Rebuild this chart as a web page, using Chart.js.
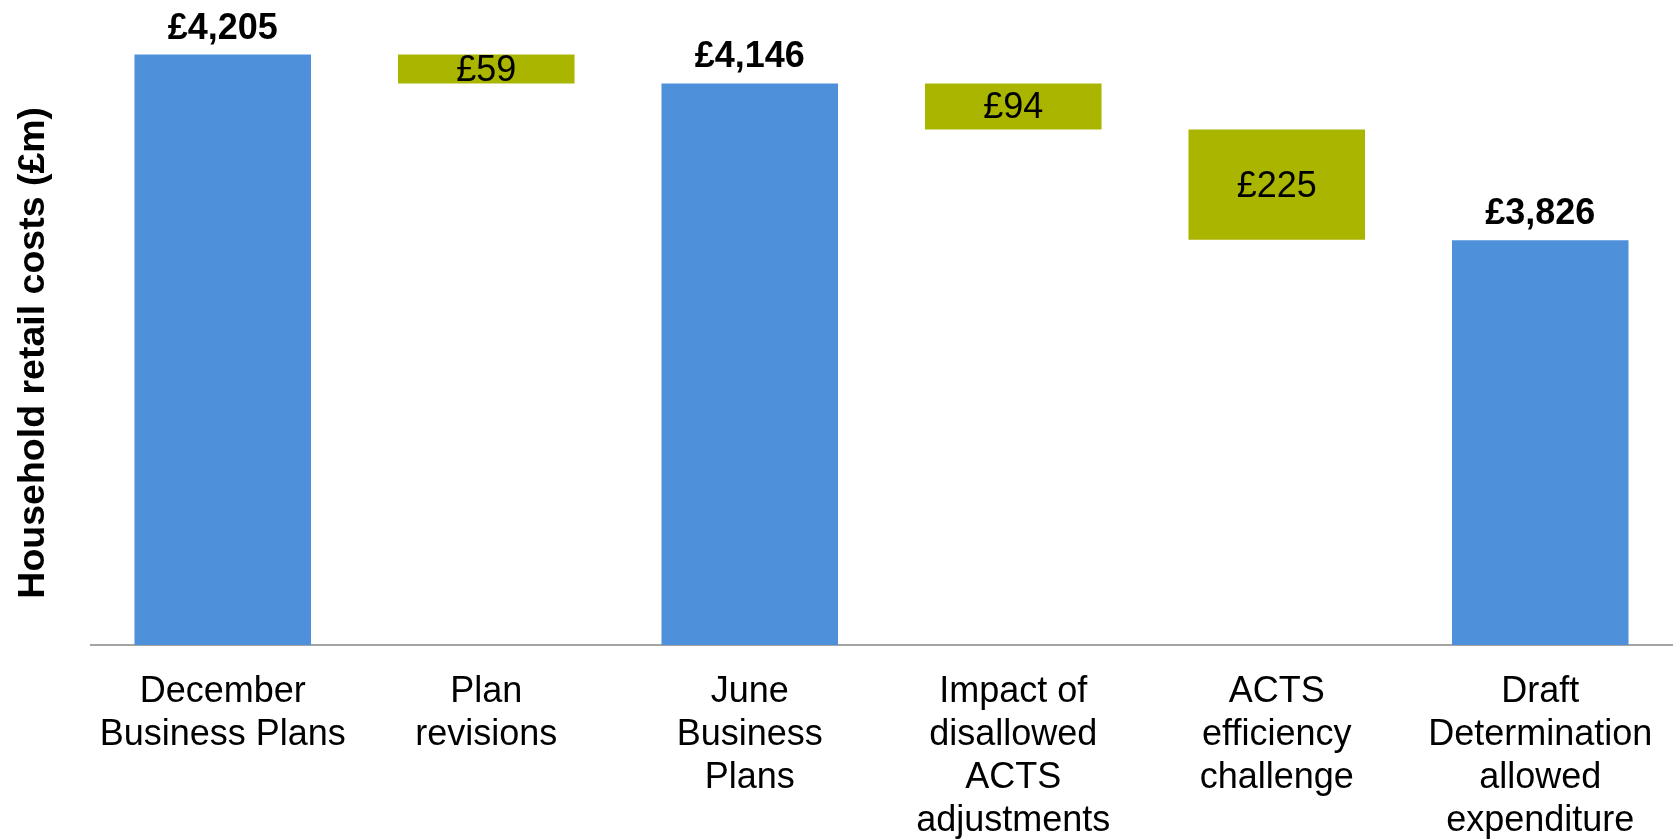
<!DOCTYPE html>
<html>
<head>
<meta charset="utf-8">
<script src="https://cdn.jsdelivr.net/npm/chart.js@4.4.0/dist/chart.umd.min.js"></script>
<style>
  html, body { margin: 0; padding: 0; background: #fff; }
  #wrap { width: 1675px; height: 839px; }
</style>
</head>
<body>
<div id="wrap"><canvas id="myChart"></canvas></div>
<script>
'use strict';

let categories = [
  ['December', 'Business Plans'],
  ['Plan', 'revisions'],
  ['June', 'Business', 'Plans'],
  ['Impact of', 'disallowed', 'ACTS', 'adjustments'],
  ['ACTS', 'efficiency', 'challenge'],
  ['Draft', 'Determination', 'allowed', 'expenditure']
];
// totals are full bars, steps are reductions hanging from the previous level
let totals = [4205, null, 4146, null, null, 3826];
let steps = [null, 59, null, 94, 225, null];
let yMin = 3000;
let yMax = 4300;
let yTitle = 'Household retail costs (£m)';

let totalColour = '#4e91da';
let stepColour = '#aab500';
let fontName = '"Liberation Sans", Arial, sans-serif';

function money(v) {
  return '£' + v.toLocaleString('en-GB');
}

// build floating [start, end] pairs for the waterfall
let barData = [];
let barColours = [];
let level = 0;
for (let i = 0; i < categories.length; i++) {
  if (totals[i] !== null) {
    barData.push([yMin, totals[i]]);
    barColours.push(totalColour);
    level = totals[i];
  } else {
    barData.push([level - steps[i], level]);
    barColours.push(stepColour);
    level = level - steps[i];
  }
}

const valueLabels = {
  id: 'valueLabels',
  afterDatasetsDraw(chart) {
    let ctx = chart.ctx;
    let meta = chart.getDatasetMeta(0);
    ctx.save();
    ctx.fillStyle = '#000';
    ctx.textAlign = 'center';
    for (let i = 0; i < meta.data.length; i++) {
      let bar = meta.data[i];
      if (totals[i] !== null) {
        ctx.font = 'bold 36px ' + fontName;
        ctx.textBaseline = 'alphabetic';
        ctx.fillText(money(totals[i]), bar.x, bar.y - 16);
      } else {
        ctx.font = '36px ' + fontName;
        ctx.textBaseline = 'middle';
        ctx.fillText(money(steps[i]), bar.x, (bar.y + bar.base) / 2 + 2);
      }
    }
    ctx.restore();
  }
};

// y axis is hidden, so its title is drawn by hand alongside the tallest bar
const axisTitle = {
  id: 'axisTitle',
  afterDraw(chart) {
    let ctx = chart.ctx;
    let y = chart.scales.y;
    let mid = (y.getPixelForValue(totals[0]) + chart.chartArea.bottom) / 2;
    ctx.save();
    ctx.translate(34, mid + 3);
    ctx.rotate(-Math.PI / 2);
    ctx.font = 'bold 37.5px ' + fontName;
    ctx.fillStyle = '#000';
    ctx.textAlign = 'center';
    ctx.textBaseline = 'middle';
    ctx.fillText(yTitle, 0, 0);
    ctx.restore();
  }
};

let canvasChart = document.getElementById('myChart').getContext('2d');
const myChart = new Chart(canvasChart, {
  type: 'bar',
  data: {
    labels: categories,
    datasets: [{
      data: barData,
      backgroundColor: barColours,
      borderWidth: 0,
      barPercentage: 0.67,
      categoryPercentage: 1
    }]
  },
  options: {
    responsive: true,
    maintainAspectRatio: false,
    animation: false,
    layout: {
      padding: { left: 91, right: 3, top: 8, bottom: 0 }
    },
    plugins: {
      legend: { display: false },
      tooltip: { enabled: false }
    },
    scales: {
      x: {
        grid: { display: false },
        border: { display: true, color: '#a3a3a3', width: 2 },
        ticks: {
          color: '#000',
          font: { family: fontName, size: 36, lineHeight: 1.2 },
          padding: 17,
          maxRotation: 0,
          autoSkip: false
        },
        afterFit(scale) {
          scale.height = 194;
        }
      },
      y: {
        display: false,
        min: yMin,
        max: yMax
      }
    }
  },
  plugins: [valueLabels, axisTitle]
});
</script>
</body>
</html>
